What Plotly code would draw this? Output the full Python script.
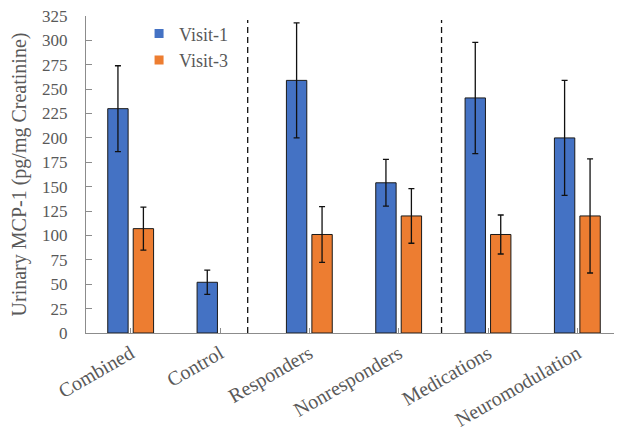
import plotly.graph_objects as go

categories = ["Combined", "Control", "Responders", "Nonresponders", "Medications", "Neuromodulation"]
visit1 = [230, 52, 259, 154, 241, 200]
visit1_err = [44, 12.5, 59, 24, 57, 59]
visit3 = [107, None, 101, 120, 101, 120]
visit3_err = [22, None, 28.5, 28, 20, 58.5]
y_ticks = list(range(0, 326, 25))
separators = [1.31, 3.48]

BLUE = "#4472C4"
ORANGE = "#ED7D31"
TEXT = "#595959"
AXIS = "#8C8C8C"
FONT = "Liberation Serif"

fig = go.Figure()
for name, vals, errs, col in [("Visit-1", visit1, visit1_err, BLUE), ("Visit-3", visit3, visit3_err, ORANGE)]:
    fig.add_trace(go.Bar(
        x=categories, y=vals, name=name, showlegend=False,
        marker=dict(color=col, line=dict(color="#1a1a1a", width=1)),
        error_y=dict(type="data", array=errs, visible=True, color="#111111", thickness=1.3, width=3),
    ))
    fig.add_trace(go.Scatter(
        x=[None], y=[None], mode="markers", name=name,
        marker=dict(symbol="square", size=9, color=col),
    ))

for s in separators:
    fig.add_shape(type="line", xref="x", yref="paper", x0=s, x1=s, y0=0, y1=0.987,
                  line=dict(color="#111111", width=1.3, dash="6px,4px"))

# page body adds an 8px offset, so the figure is sized 8px smaller
fig.update_layout(
    width=614, height=422,
    margin=dict(l=78, r=0, t=8, b=97),
    paper_bgcolor="white", plot_bgcolor="white",
    barmode="group", bargap=0.43, bargroupgap=0.2,
    font=dict(family=FONT, color=TEXT),
    legend=dict(x=0.099, y=1.002, xanchor="left", yanchor="top",
                font=dict(size=18, color=TEXT, family=FONT),
                bgcolor="rgba(0,0,0,0)", tracegroupgap=0, itemwidth=30),
    xaxis=dict(
        type="category", range=[-0.5, 5.5], automargin=False,
        showline=True, linecolor=AXIS, linewidth=1.3,
        ticks="inside", ticklen=5, tickcolor=AXIS, tickwidth=1.3,
        tickangle=-30, tickfont=dict(size=20, color=TEXT, family=FONT),
        ticklabeloverflow="allow",
        showgrid=False, zeroline=False,
    ),
    yaxis=dict(
        range=[0, 325], tickvals=y_ticks, automargin=False,
        showline=True, linecolor=AXIS, linewidth=1.3,
        ticks="inside", ticklen=6, tickcolor=AXIS, tickwidth=1.3,
        ticklabelstandoff=14, ticklabeloverflow="allow",
        tickfont=dict(size=17, color=TEXT, family=FONT),
        showgrid=False, zeroline=False,
        title=dict(text="Urinary MCP-1 (pg/mg Creatinine)", font=dict(size=20, color=TEXT, family=FONT), standoff=12),
    ),
)

fig.write_html("out.html")
